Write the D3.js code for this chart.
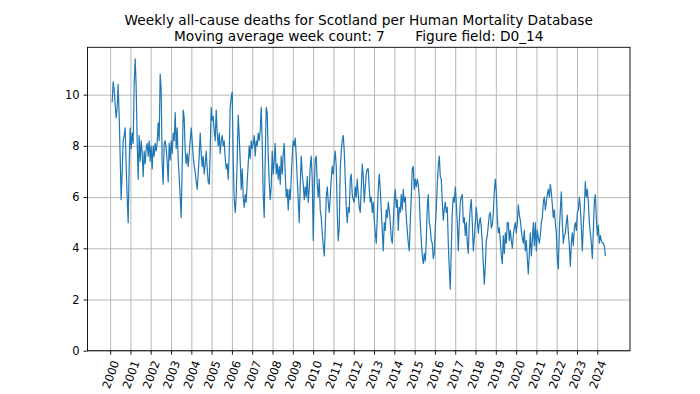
<!DOCTYPE html>
<html>
<head>
<meta charset="UTF-8">
<script src="https://cdnjs.cloudflare.com/ajax/libs/d3/7.8.5/d3.min.js"></script>
<style>
    body { margin: 0; background: #fff; }
    svg { display: block; font-family: "DejaVu Sans", sans-serif; }
</style>
</head>
<body>
<svg id="chart"></svg>
<script>
    //********** DATA *******************************************

    var titleLines = [
        "Weekly all-cause deaths for Scotland per Human Mortality Database",
        "Moving average week count: 7       Figure field: D0_14"
    ];

    var yearTicks = [2000, 2001, 2002, 2003, 2004, 2005, 2006, 2007, 2008, 2009, 2010, 2011, 2012,
        2013, 2014, 2015, 2016, 2017, 2018, 2019, 2020, 2021, 2022, 2023, 2024];
    var valueTicks = [0, 2, 4, 6, 8, 10];

    // one reading every 18 days, first one early February 2000
    var sampleStart = 2000.1;
    var sampleStep = 18 / 365.25;

    var deaths = [
        // 2000 - 2002.6
        9.7, 10.5, 10.2, 9.6, 9.1, 9.5, 10.4, 9.2, 7.6, 5.9, 7.0, 8.2, 8.4, 8.7, 7.2, 6.0, 5.0, 7.2,
        8.7, 7.9, 8.5, 8.1, 10.4, 11.4, 10.3, 8.2, 6.7, 8.4, 7.4, 8.2, 7.7, 6.8, 7.8, 7.3, 7.9, 8.1,
        7.6, 8.2, 7.4, 8.0, 7.1, 8.0, 7.6, 8.1, 7.8, 8.1, 8.9, 8.2, 10.8, 10.2, 7.3, 6.5, 8.1,
        // 2002.6 - 2005.9
        8.2, 7.9, 7.4, 6.6, 8.1, 7.45, 8.2, 7.7, 8.5, 8.2, 9.3, 7.9, 8.7, 7.5, 6.8, 6.0, 5.2, 7.2,
        9.4, 9.1, 7.8, 7.3, 7.7, 7.2, 7.7, 8.2, 8.7, 8.2, 7.6, 7.2, 7.0, 6.6, 6.3, 6.9, 7.6, 8.5,
        7.7, 7.2, 7.6, 6.9, 7.3, 7.8, 7.1, 6.6, 6.5, 7.8, 9.5, 9.0, 9.15, 8.6, 8.2, 9.4, 8.5, 8.0,
        8.5, 7.7, 8.2, 8.4, 8.0, 8.2, 7.5, 7.1, 7.3, 6.7, 7.7,
        // 2005.9 - 2009.1
        9.5, 9.9, 10.1, 7.5, 5.9, 5.4, 6.0, 7.5, 9.2, 8.4, 7.4, 6.3, 7.1, 6.0, 5.6, 6.1, 5.8, 6.6,
        7.3, 8.0, 7.5, 8.2, 7.9, 8.1, 8.4, 7.6, 8.2, 8.0, 8.5, 8.2, 8.6, 9.5, 8.1, 6.1, 5.2, 7.5,
        9.5, 9.3, 7.6, 6.6, 5.9, 6.4, 7.8, 6.9, 7.4, 8.1, 6.9, 7.3, 6.7, 7.2, 6.5, 7.6, 6.9, 7.7,
        8.1, 6.9, 6.0, 6.3, 5.5, 6.3, 5.9, 6.7, 7.6, 8.2, 8.0,
        // 2009.1 - 2012.3
        8.3, 7.6, 6.7, 5.9, 5.0, 6.5, 7.6, 6.9, 6.5, 5.9, 6.4, 6.0, 6.8, 5.8, 6.3, 7.2, 7.6, 6.7,
        4.3, 6.3, 7.5, 7.6, 6.5, 6.0, 6.7, 5.5, 5.2, 4.6, 4.1, 3.7, 4.8, 6.0, 6.4, 5.8, 5.4, 6.0,
        6.7, 7.2, 6.9, 7.4, 7.8, 7.2, 5.4, 4.3, 4.8, 7.1, 7.8, 8.2, 8.4, 7.8, 6.7, 5.6, 5.0, 5.6,
        5.4, 6.7, 6.9, 6.1, 5.9, 5.8, 6.4, 6.0, 6.7, 6.1, 5.6,
        // 2012.3 - 2015.5
        5.4, 6.3, 7.3, 6.8, 5.8, 6.4, 6.9, 7.1, 7.1, 6.3, 5.8, 6.0, 5.4, 5.8, 5.1, 4.6, 4.2, 5.2,
        6.3, 6.9, 6.3, 5.5, 4.7, 3.9, 5.0, 4.7, 5.5, 5.2, 5.8, 5.5, 5.0, 4.4, 4.2, 5.0, 5.9, 6.3,
        5.6, 5.9, 4.7, 5.6, 5.4, 6.1, 5.5, 6.3, 5.8, 6.0, 5.2, 4.7, 4.2, 3.9, 5.0, 6.0, 7.1, 7.2,
        6.3, 6.7, 6.4, 6.7, 6.5, 6.0, 5.0, 4.3, 3.7, 3.4, 3.8,
        // 2015.5 - 2018.7
        3.5, 4.3, 5.6, 6.1, 5.0, 4.8, 4.3, 4.2, 3.6, 3.8, 4.8, 5.5, 6.5, 7.2, 7.6, 6.8, 6.7, 5.8,
        5.1, 5.5, 5.8, 5.4, 5.6, 4.2, 3.2, 2.4, 4.0, 5.4, 6.0, 5.8, 6.4, 5.8, 5.0, 3.9, 5.0, 5.8,
        6.0, 6.1, 5.0, 5.2, 4.5, 5.0, 4.2, 3.8, 5.0, 5.6, 5.9, 5.0, 3.9, 4.4, 5.0, 5.6, 5.1, 4.6,
        5.0, 5.2, 4.8, 4.2, 3.4, 2.6, 3.3, 4.3, 4.5, 4.9, 5.3,
        // 2018.7 - 2021.9
        5.4, 4.8, 4.9, 5.4, 6.2, 6.7, 6.2, 5.2, 4.6, 4.8, 4.3, 3.7, 3.4, 4.5, 3.8, 4.6, 4.2, 5.0,
        5.0, 4.3, 4.7, 4.3, 4.0, 4.5, 4.8, 5.0, 4.6, 5.0, 5.7, 5.3, 5.1, 4.7, 4.4, 4.2, 4.7, 3.9,
        4.3, 3.6, 3.0, 3.8, 4.6, 3.7, 4.3, 5.0, 4.1, 5.0, 3.9, 4.7, 4.4, 4.2, 4.5, 5.0, 5.2, 5.8,
        6.0, 5.5, 5.8, 6.1, 6.3, 6.0, 6.5, 6.2, 5.7, 5.2, 5.5,
        // 2021.9 - 2024.4
        5.0, 4.6, 3.6, 3.2, 4.7, 5.5, 6.2, 5.0, 4.2, 4.5, 4.6, 5.0, 5.3, 4.6, 4.1, 3.3, 4.2, 4.6,
        4.1, 4.8, 5.0, 4.7, 5.4, 5.5, 6.0, 5.6, 4.8, 3.9, 4.9, 5.6, 6.6, 6.0, 6.3, 5.8, 5.0, 4.6,
        4.2, 3.6, 4.7, 5.8, 6.1, 5.2, 4.5, 4.9, 4.2, 4.5, 4.3, 4.2, 4.2, 4.1, 3.7
    ];

    //********** LAYOUT *********************

    var width = 700, height = 394;
    var margin = { top: 47.3, right: 70, bottom: 43.3, left: 87.5 };
    var innerW = width - margin.left - margin.right;
    var innerH = height - margin.top - margin.bottom;
    var gridColor = "#b0b0b0";
    var lineColor = "#1f77b4";
    var tickFont = 11.4, titleFont = 13.7;
    var tickLen = 4, tickPad = 4;

    var series = deaths.map(function (v, i) {
        return { t: sampleStart + i * sampleStep, v: v };
    });

    // matplotlib style 5% margins on x, bottom pinned to 0 on y
    var t0 = series[0].t, t1 = series[series.length - 1].t;
    var span = t1 - t0;
    var x = d3.scaleLinear()
        .domain([t0 - 0.05 * span, t1 + 0.05 * span])
        .range([0, innerW]);

    var vmin = d3.min(deaths), vmax = d3.max(deaths);
    var y = d3.scaleLinear()
        .domain([0, vmax + 0.05 * (vmax - vmin)])
        .range([innerH, 0]);

    var svg = d3.select("#chart")
        .attr("width", width)
        .attr("height", height);

    svg.append("rect").attr("width", width).attr("height", height).attr("fill", "#fff");

    var g = svg.append("g").attr("transform", "translate(" + margin.left + "," + margin.top + ")");

    g.append("clipPath").attr("id", "plotClip")
        .append("rect").attr("width", innerW).attr("height", innerH);

    //********** GRID *********************

    g.append("g")
        .attr("transform", "translate(0," + innerH + ")")
        .call(d3.axisBottom(x).tickValues(yearTicks).tickSize(-innerH).tickFormat(""))
        .call(function (a) { a.select(".domain").remove(); })
        .selectAll("line").attr("stroke", gridColor).attr("stroke-width", 0.9);

    g.append("g")
        .call(d3.axisLeft(y).tickValues(valueTicks).tickSize(-innerW).tickFormat(""))
        .call(function (a) { a.select(".domain").remove(); })
        .selectAll("line").attr("stroke", gridColor).attr("stroke-width", 0.9);

    //********** LINE *********************

    var line = d3.line()
        .x(function (d) { return x(d.t); })
        .y(function (d) { return y(d.v); });

    g.append("path")
        .datum(series)
        .attr("clip-path", "url(#plotClip)")
        .attr("fill", "none")
        .attr("stroke", lineColor)
        .attr("stroke-width", 1.2)
        .attr("stroke-linejoin", "round")
        .attr("d", line);

    //********** AXES *********************

    g.append("rect")
        .attr("width", innerW).attr("height", innerH)
        .attr("fill", "none").attr("stroke", "#000").attr("stroke-width", 0.9);

    var xAxis = g.append("g")
        .attr("transform", "translate(0," + innerH + ")")
        .call(d3.axisBottom(x).tickValues(yearTicks).tickSize(tickLen).tickFormat(d3.format("d")));
    xAxis.select(".domain").remove();
    xAxis.attr("font-family", "DejaVu Sans").attr("font-size", tickFont);
    xAxis.selectAll("line").attr("stroke", "#000").attr("stroke-width", 0.9);

    var ang = 70 * Math.PI / 180;
    xAxis.selectAll("text")
        .attr("fill", "#000")
        .attr("y", 0).attr("dy", "0.35em")
        .attr("text-anchor", "middle")
        .attr("transform", function () {
            var w = this.getComputedTextLength();
            var h = tickFont * 1.17;
            var half = (w * Math.sin(ang) + h * Math.cos(ang)) / 2;
            return "translate(0," + (tickLen + tickPad + half) + ") rotate(-70)";
        });

    var yAxis = g.append("g")
        .call(d3.axisLeft(y).tickValues(valueTicks).tickSize(tickLen).tickPadding(tickPad));
    yAxis.select(".domain").remove();
    yAxis.attr("font-family", "DejaVu Sans").attr("font-size", tickFont);
    yAxis.selectAll("line").attr("stroke", "#000").attr("stroke-width", 0.9);
    yAxis.selectAll("text").attr("fill", "#000");

    //********** TITLE *********************

    svg.append("g")
        .selectAll("text")
        .data(titleLines)
        .enter()
        .append("text")
        .attr("x", margin.left + innerW / 2)
        .attr("y", function (d, i) { return 24.5 + i * 16; })
        .attr("text-anchor", "middle")
        .attr("font-size", titleFont)
        .attr("fill", "#000")
        .style("white-space", "pre")
        .text(function (d) { return d; });
</script>
</body>
</html>
